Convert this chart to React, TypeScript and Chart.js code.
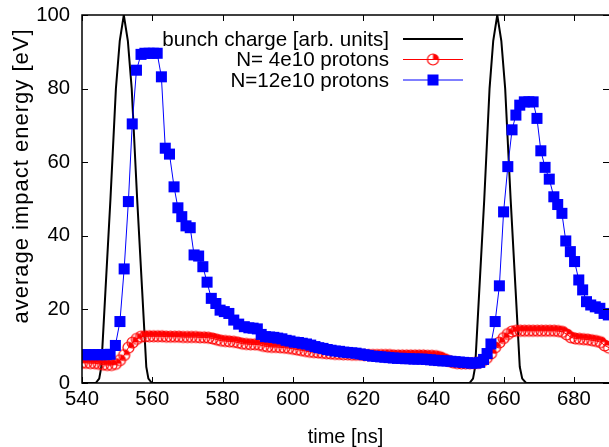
import React, { useEffect, useRef } from 'react';
import { Chart, registerables } from 'chart.js';
Chart.register(...registerables);

const FONT = '"Liberation Sans", Arial, Helvetica, sans-serif';

// bunch charge [arb. units]
const bunchT = [540, 543.9, 544.9, 545.5, 546.7, 548.1, 549.65, 550.75, 551.9, 553.05, 554.15, 555.7, 557.1, 558.3, 558.9, 559.9,
  650.3, 651.3, 651.9, 653.1, 654.5, 656.0, 657.05, 658.2, 659.35, 660.45, 662.0, 663.4, 664.6, 665.3, 666.4, 690];
const bunchV = [0, 0, 1.2, 4.4, 25.5, 50, 80, 93, 100, 93, 80, 50, 25.5, 4.4, 1.2, 0,
  0, 1.2, 4.4, 25.5, 50, 80, 93, 100, 93, 80, 50, 25.5, 4.4, 1.2, 0, 0];

// N= 4e10 protons
const lowT = [
  540.0, 541.2, 542.4, 543.6, 544.8, 546.0, 547.2, 548.4, 549.6, 550.8,
  552.0, 553.2, 554.4, 555.6, 556.8, 558.0, 559.2, 560.4, 561.6, 562.8,
  564.0, 565.2, 566.4, 567.6, 568.8, 570.0, 571.2, 572.4, 573.6, 574.8,
  576.0, 577.2, 578.4, 579.6, 580.8, 582.0, 583.2, 584.4, 585.6, 586.8,
  588.0, 589.2, 590.4, 591.6, 592.8, 594.0, 595.2, 596.4, 597.6, 598.8,
  600.0, 601.2, 602.4, 603.6, 604.8, 606.0, 607.2, 608.4, 609.6, 610.8,
  612.0, 613.2, 614.4, 615.6, 616.8, 618.0, 619.2, 620.4, 621.6, 622.8,
  624.0, 625.2, 626.4, 627.6, 628.8, 630.0, 631.2, 632.4, 633.6, 634.8,
  636.0, 637.2, 638.4, 639.6, 640.8, 642.0, 643.2, 644.4, 645.6, 646.8,
  648.0, 649.2, 650.4, 651.6, 652.8, 654.0, 655.2, 656.4, 657.6, 658.8,
  660.0, 661.2, 662.4, 663.6, 664.8, 666.0, 667.2, 668.4, 669.6, 670.8,
  672.0, 673.2, 674.4, 675.6, 676.8, 678.0, 679.2, 680.4, 681.6, 682.8,
  684.0, 685.2, 686.4, 687.6, 688.8, 690.0];
const lowV = [
  5.5, 5.5, 5.4, 5.4, 5.2, 5.0, 4.9, 4.9, 5.2, 6.2,
  7.6, 9.6, 11.0, 12.0, 12.6, 12.7, 12.7, 12.7, 12.7, 12.7,
  12.6, 12.6, 12.6, 12.6, 12.5, 12.5, 12.5, 12.5, 12.4, 12.4,
  12.3, 12.1, 11.8, 11.5, 11.4, 11.3, 11.2, 11.0, 10.7, 10.6,
  10.5, 10.5, 10.4, 10.1, 9.9, 9.8, 9.8, 9.7, 9.6, 9.5,
  9.3, 9.1, 8.9, 8.7, 8.5, 8.4, 8.3, 8.2, 8.1, 8.0,
  7.9, 7.9, 7.8, 7.8, 7.7, 7.7, 7.7, 7.6, 7.6, 7.6,
  7.6, 7.6, 7.6, 7.6, 7.5, 7.5, 7.5, 7.5, 7.5, 7.5,
  7.5, 7.5, 7.4, 7.4, 7.3, 7.0, 6.5, 6.0, 5.6, 5.4,
  5.3, 5.3, 5.3, 5.4, 5.5, 6.0, 6.8, 8.0, 9.7, 11.0,
  12.2, 13.3, 14.0, 14.2, 14.2, 14.2, 14.2, 14.2, 14.2, 14.2,
  14.2, 14.2, 14.2, 14.1, 13.9, 13.2, 12.4, 12.1, 12.0, 11.9,
  11.8, 11.6, 11.4, 11.1, 10.2, 9.6];

// N=12e10 protons
const highT = [
  540.0, 541.1, 542.3, 543.4, 544.6, 545.7, 546.9, 548.0, 549.5, 550.8,
  552.0, 553.2, 554.3, 555.5, 556.8, 557.9, 559.1, 560.3, 561.4, 562.6,
  563.7, 564.9, 566.2, 567.3, 568.4, 569.6, 570.8, 571.9, 573.2, 574.4,
  575.6, 576.8, 578.1, 579.3, 580.5, 581.8, 583.2, 584.6, 586.2, 587.5,
  588.7, 589.9, 591.0, 592.2, 593.4, 594.6, 595.7, 596.9, 598.1, 599.2,
  600.4, 601.6, 602.7, 603.9, 605.1, 606.3, 607.4, 608.6, 609.8, 610.9,
  612.1, 613.3, 614.5, 615.6, 616.8, 618.0, 619.2, 620.3, 621.5, 622.7,
  623.9, 625.0, 626.2, 627.4, 628.6, 629.8, 630.9, 632.1, 633.3, 634.5,
  635.6, 636.8, 638.0, 639.2, 640.3, 641.5, 642.7, 643.9, 645.0, 646.2,
  647.4, 648.6, 649.7, 650.9, 652.1, 653.2, 654.3, 655.3, 656.4, 657.6,
  658.8, 660.0, 661.2, 662.4, 663.5, 664.6, 665.9, 667.2, 668.4, 669.5,
  670.6, 671.8, 673.0, 674.3, 675.4, 676.6, 677.7, 679.0, 680.2, 681.4,
  682.5, 683.6, 684.8, 686.1, 687.4, 688.6, 689.8];
const highV = [
  7.7, 7.7, 7.7, 7.7, 7.7, 7.7, 7.7, 7.8, 10.2, 16.7,
  31.0, 49.3, 70.4, 85.0, 89.3, 89.6, 89.6, 89.6, 89.6, 83.2,
  63.8, 62.2, 53.3, 47.6, 45.2, 42.7, 42.2, 34.8, 34.5, 31.6,
  27.4, 23.0, 21.6, 19.8, 19.4, 18.9, 17.1, 16.0, 15.3, 15.0,
  14.9, 14.7, 13.2, 12.6, 12.5, 12.4, 12.2, 12.0, 11.6, 11.4,
  11.1, 11.0, 10.8, 10.6, 10.3, 9.9, 9.6, 9.4, 9.1, 8.9,
  8.7, 8.6, 8.4, 8.3, 8.2, 8.1, 7.9, 7.7, 7.5, 7.3,
  7.2, 7.1, 7.0, 6.9, 6.8, 6.7, 6.7, 6.6, 6.6, 6.5,
  6.5, 6.5, 6.4, 6.3, 6.2, 6.1, 6.0, 6.0, 5.9, 5.8,
  5.7, 5.6, 5.5, 5.4, 5.4, 5.6, 6.4, 8.0, 10.6, 16.7,
  26.4, 46.5, 58.8, 68.8, 72.8, 75.5, 76.4, 76.4, 76.4, 71.9,
  63.1, 58.6, 55.4, 50.6, 48.5, 46.1, 38.6, 35.7, 33.0, 28.0,
  25.3, 22.1, 21.2, 20.7, 20.3, 18.9, 18.5];

const xTicks = [540, 560, 580, 600, 620, 640, 660, 680];
const labels = ['bunch charge [arb. units]', 'N= 4e10 protons', 'N=12e10 protons'];
const xTitle = 'time [ns]';
const yTitle = 'average impact energy [eV]';

function makeCircle(): HTMLCanvasElement {
  const c = document.createElement('canvas');
  c.width = 15;
  c.height = 15;
  const ctx = c.getContext('2d')!;
  ctx.strokeStyle = '#ff0000';
  ctx.fillStyle = '#ff0000';
  ctx.lineWidth = 1.2;
  ctx.beginPath();
  ctx.arc(7.5, 7.5, 5.5, 0, Math.PI * 2);
  ctx.stroke();
  ctx.beginPath();
  ctx.moveTo(7.5, 7.5);
  ctx.arc(7.5, 7.5, 5.5, -Math.PI / 2, 0);
  ctx.closePath();
  ctx.fill();
  return c;
}

const toPts = (t: number[], v: number[]) => t.map((x, i) => ({ x, y: v[i] }));

export default function App() {
  const ref = useRef<HTMLCanvasElement>(null);
  useEffect(() => {
    const canvas = ref.current!;
    const circle = makeCircle();

    const framePlugin = {
      id: 'gpFrame',
      afterDatasetsDraw(chart: any) {
        const { ctx, chartArea: a, scales } = chart;
        ctx.save();
        ctx.strokeStyle = '#000';
        ctx.lineWidth = 1.5;
        ctx.beginPath();
        ctx.moveTo(a.right + 2, a.top);
        ctx.lineTo(a.left, a.top);
        ctx.lineTo(a.left, a.bottom);
        ctx.lineTo(a.right + 2, a.bottom);
        ctx.stroke();
        ctx.lineWidth = 1;
        ctx.beginPath();
        const L = 6;
        scales.x.ticks.forEach((t: any) => {
          const px = Math.round(scales.x.getPixelForValue(t.value)) + 0.5;
          ctx.moveTo(px, a.bottom); ctx.lineTo(px, a.bottom - L);
          ctx.moveTo(px, a.top); ctx.lineTo(px, a.top + L);
        });
        scales.y.ticks.forEach((t: any) => {
          const py = Math.round(scales.y.getPixelForValue(t.value)) + 0.5;
          ctx.moveTo(a.left, py); ctx.lineTo(a.left + L, py);
          ctx.moveTo(a.right, py); ctx.lineTo(a.right - L, py);
        });
        ctx.stroke();

        // y-axis title
        ctx.save();
        ctx.translate(22, 176);
        ctx.rotate(-Math.PI / 2);
        ctx.font = `22px ${FONT}`;
        (ctx as any).letterSpacing = '1px';
        ctx.fillStyle = '#000';
        ctx.textAlign = 'center';
        ctx.textBaseline = 'middle';
        ctx.fillText(yTitle, 0, 0);
        ctx.restore();

        // key
        ctx.font = `20.6px ${FONT}`;
        ctx.fillStyle = '#000';
        ctx.textAlign = 'right';
        ctx.textBaseline = 'middle';
        const rows = [39, 59.5, 80];
        const x0 = 403, x1 = 463, xm = 433;
        chart.data.datasets.forEach((ds: any, i: number) => {
          const y = rows[i];
          ctx.fillText(ds.label, 389, y + 1);
          ctx.strokeStyle = ds.borderColor;
          ctx.lineWidth = ds.borderWidth;
          ctx.beginPath();
          ctx.moveTo(x0, y); ctx.lineTo(x1, y);
          ctx.stroke();
          if (i === 1) ctx.drawImage(circle, xm - 7.5, y - 7.5);
          if (i === 2) { ctx.fillStyle = '#0000ff'; ctx.fillRect(xm - 5.5, y - 5.5, 11, 11); ctx.fillStyle = '#000'; }
        });
        ctx.restore();
      },
    };

    const chart = new Chart(canvas, {
      type: 'line',
      data: {
        datasets: [
          {
            label: labels[0],
            data: toPts(bunchT, bunchV),
            borderColor: '#000000',
            borderWidth: 2,
            pointRadius: 0,
            tension: 0,
            order: 2,
          },
          {
            label: labels[1],
            data: toPts(lowT, lowV),
            borderColor: '#ff0000',
            backgroundColor: '#ff0000',
            borderWidth: 1,
            pointStyle: circle,
            pointRadius: 6,
            tension: 0,
            order: 1,
          },
          {
            label: labels[2],
            data: toPts(highT, highV),
            borderColor: '#0000ff',
            backgroundColor: '#0000ff',
            borderWidth: 1,
            pointStyle: 'rect',
            pointRadius: 7.8,
            pointBorderWidth: 0,
            tension: 0,
            order: 0,
          },
        ] as any,
      },
      options: {
        responsive: false,
        animation: false,
        events: [],
        layout: { autoPadding: false, padding: { top: 15, left: 0, right: 0, bottom: 0 } },
        plugins: { legend: { display: false }, tooltip: { enabled: false } },
        scales: {
          x: {
            type: 'linear',
            min: 540,
            max: 690,
            afterBuildTicks: (s: any) => { s.ticks = xTicks.map((v) => ({ value: v })); },
            afterFit: (s: any) => { s.height = 64; s.paddingLeft = 0; s.paddingRight = 0; },
            ticks: { font: { family: FONT, size: 20.3 }, color: '#000', padding: 4, maxRotation: 0, autoSkip: false },
            grid: { display: false, drawTicks: false },
            border: { display: false },
            title: { display: true, text: xTitle, color: '#000', font: { family: FONT, size: 20, lineHeight: 1 }, padding: 0 },
          },
          y: {
            min: 0,
            max: 100,
            afterFit: (s: any) => { s.width = 82; s.paddingTop = 0; s.paddingBottom = 0; },
            ticks: { stepSize: 20, font: { family: FONT, size: 20.3 }, color: '#000', padding: 12 },
            grid: { display: false, drawTicks: false },
            border: { display: false },
          },
        },
      } as any,
      plugins: [framePlugin],
    });
    return () => chart.destroy();
  }, []);

  return (
    <div style={{ position: 'absolute', left: 0, top: 0, width: 609, height: 447 }}>
      <canvas ref={ref} width={609} height={447} style={{ display: 'block' }} />
    </div>
  );
}
